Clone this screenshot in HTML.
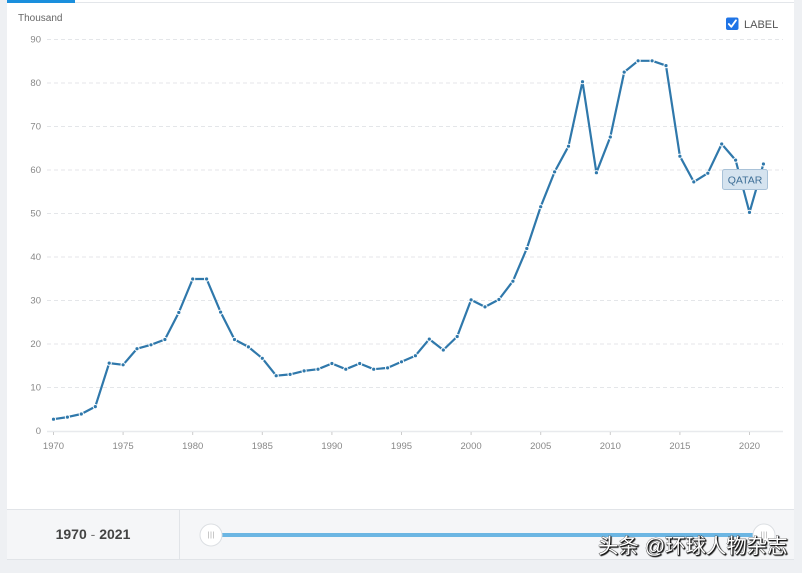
<!DOCTYPE html>
<html><head><meta charset="utf-8">
<style>
html,body{margin:0;padding:0;}
body{width:802px;height:573px;background:#eef0f3;position:relative;overflow:hidden;font-family:"Liberation Sans",sans-serif;}
</style></head>
<body>
<svg width="802" height="573" viewBox="0 0 802 573" xmlns="http://www.w3.org/2000/svg" style="position:absolute;left:0;top:0">
  <rect x="0" y="0" width="802" height="573" fill="#eef0f3"/>
  <!-- main panel -->
  <rect x="7" y="0" width="787" height="509" fill="#ffffff"/>
  <line x1="7" y1="2.5" x2="794" y2="2.5" stroke="#e3e6ea" stroke-width="1"/>
  <rect x="7" y="0" width="68" height="3" fill="#1a8fdd"/>
  <!-- footer -->
  <rect x="7" y="509" width="787" height="50" fill="#f5f6f8"/>
  <line x1="7" y1="509.5" x2="794" y2="509.5" stroke="#e1e4e8"/>
  <line x1="7" y1="559.5" x2="794" y2="559.5" stroke="#e1e4e8"/>
  <line x1="179.5" y1="510" x2="179.5" y2="559" stroke="#e1e4e8"/>
  <text x="93" y="539" text-anchor="middle" font-family="Liberation Sans, sans-serif" font-size="14" font-weight="bold" fill="#444">1970 <tspan font-weight="normal" fill="#777">-</tspan> 2021</text>
  <rect x="222" y="533" width="542" height="4" fill="#6cb6e3"/>
  <circle cx="211" cy="535" r="11" fill="#fff" stroke="#dcdfe3" stroke-width="1"/>
  <g stroke="#bbb" stroke-width="0.8"><line x1="208.5" y1="531.5" x2="208.5" y2="538.5"/><line x1="211" y1="531.5" x2="211" y2="538.5"/><line x1="213.5" y1="531.5" x2="213.5" y2="538.5"/></g>
  <circle cx="764" cy="535" r="11" fill="#fff" stroke="#dcdfe3" stroke-width="1"/>
  <g stroke="#bbb" stroke-width="0.8"><line x1="761.5" y1="531.5" x2="761.5" y2="538.5"/><line x1="764" y1="531.5" x2="764" y2="538.5"/><line x1="766.5" y1="531.5" x2="766.5" y2="538.5"/></g>

  <!-- Thousand -->
  <text x="18" y="21" font-family="Liberation Sans, sans-serif" font-size="10" fill="#666">Thousand</text>

  <!-- grid -->
  <g stroke="#e4e6e9" stroke-width="1" stroke-dasharray="4,3">
    <line x1="47" y1="39.5" x2="783" y2="39.5"/>
    <line x1="47" y1="83" x2="783" y2="83"/>
    <line x1="47" y1="126.5" x2="783" y2="126.5"/>
    <line x1="47" y1="170" x2="783" y2="170"/>
    <line x1="47" y1="213.5" x2="783" y2="213.5"/>
    <line x1="47" y1="257" x2="783" y2="257"/>
    <line x1="47" y1="300.5" x2="783" y2="300.5"/>
    <line x1="47" y1="344" x2="783" y2="344"/>
    <line x1="47" y1="387.5" x2="783" y2="387.5"/>
  </g>
  <line x1="47" y1="431.5" x2="783" y2="431.5" stroke="#e8eaed" stroke-width="1.5"/>
  <g stroke="#ccc" stroke-width="1">
    <line x1="53.5" y1="432" x2="53.5" y2="435"/>
    <line x1="123.1" y1="432" x2="123.1" y2="435"/>
    <line x1="192.7" y1="432" x2="192.7" y2="435"/>
    <line x1="262.3" y1="432" x2="262.3" y2="435"/>
    <line x1="331.9" y1="432" x2="331.9" y2="435"/>
    <line x1="401.5" y1="432" x2="401.5" y2="435"/>
    <line x1="471.1" y1="432" x2="471.1" y2="435"/>
    <line x1="540.7" y1="432" x2="540.7" y2="435"/>
    <line x1="610.3" y1="432" x2="610.3" y2="435"/>
    <line x1="679.9" y1="432" x2="679.9" y2="435"/>
    <line x1="749.5" y1="432" x2="749.5" y2="435"/>
  </g>
  <g font-family="Liberation Sans, sans-serif" font-size="9.5" fill="#888" text-anchor="end">
    <text x="41" y="42.5">90</text>
    <text x="41" y="86">80</text>
    <text x="41" y="129.5">70</text>
    <text x="41" y="173">60</text>
    <text x="41" y="216.5">50</text>
    <text x="41" y="260">40</text>
    <text x="41" y="303.5">30</text>
    <text x="41" y="347">20</text>
    <text x="41" y="390.5">10</text>
    <text x="41" y="434">0</text>
  </g>
  <g font-family="Liberation Sans, sans-serif" font-size="9.5" fill="#888" text-anchor="middle">
    <text x="53.5" y="449">1970</text>
    <text x="123.1" y="449">1975</text>
    <text x="192.7" y="449">1980</text>
    <text x="262.3" y="449">1985</text>
    <text x="331.9" y="449">1990</text>
    <text x="401.5" y="449">1995</text>
    <text x="471.1" y="449">2000</text>
    <text x="540.7" y="449">2005</text>
    <text x="610.3" y="449">2010</text>
    <text x="679.9" y="449">2015</text>
    <text x="749.5" y="449">2020</text>
  </g>

  <!-- series -->
  <polyline fill="none" stroke="#2f78ab" stroke-width="2.2" stroke-linejoin="round" points="53.5,419.2 67.4,417.1 81.3,414.0 95.3,406.6 109.2,363.1 123.1,364.8 137.0,348.7 151.0,344.8 164.9,339.5 178.8,312.5 192.7,279.0 206.6,279.0 220.6,312.1 234.5,339.5 248.4,346.9 262.3,358.3 276.2,375.7 290.1,374.4 304.1,370.9 318.0,369.2 331.9,363.5 345.8,369.2 359.7,363.5 373.7,369.2 387.6,367.9 401.5,361.8 415.4,355.7 429.3,339.1 443.3,350.0 457.2,336.5 471.1,299.9 485.0,306.9 498.9,299.5 512.9,281.2 526.8,248.5 540.7,206.7 554.6,171.9 568.5,146.2 582.5,81.7 596.4,172.7 610.3,137.0 624.2,72.1 638.1,60.8 652.1,60.8 666.0,65.6 679.9,156.2 693.8,181.9 707.8,173.2 721.7,144.0 735.6,160.1 749.5,212.4 763.4,164.0"/>
  <g fill="#ffffff">
    <circle cx="53.5" cy="419.2" r="2.6"/><circle cx="67.4" cy="417.1" r="2.6"/><circle cx="81.3" cy="414.0" r="2.6"/><circle cx="95.3" cy="406.6" r="2.6"/><circle cx="109.2" cy="363.1" r="2.6"/><circle cx="123.1" cy="364.8" r="2.6"/><circle cx="137.0" cy="348.7" r="2.6"/><circle cx="151.0" cy="344.8" r="2.6"/><circle cx="164.9" cy="339.5" r="2.6"/><circle cx="178.8" cy="312.5" r="2.6"/><circle cx="192.7" cy="279.0" r="2.6"/><circle cx="206.6" cy="279.0" r="2.6"/><circle cx="220.6" cy="312.1" r="2.6"/><circle cx="234.5" cy="339.5" r="2.6"/><circle cx="248.4" cy="346.9" r="2.6"/><circle cx="262.3" cy="358.3" r="2.6"/><circle cx="276.2" cy="375.7" r="2.6"/><circle cx="290.1" cy="374.4" r="2.6"/><circle cx="304.1" cy="370.9" r="2.6"/><circle cx="318.0" cy="369.2" r="2.6"/><circle cx="331.9" cy="363.5" r="2.6"/><circle cx="345.8" cy="369.2" r="2.6"/><circle cx="359.7" cy="363.5" r="2.6"/><circle cx="373.7" cy="369.2" r="2.6"/><circle cx="387.6" cy="367.9" r="2.6"/><circle cx="401.5" cy="361.8" r="2.6"/><circle cx="415.4" cy="355.7" r="2.6"/><circle cx="429.3" cy="339.1" r="2.6"/><circle cx="443.3" cy="350.0" r="2.6"/><circle cx="457.2" cy="336.5" r="2.6"/><circle cx="471.1" cy="299.9" r="2.6"/><circle cx="485.0" cy="306.9" r="2.6"/><circle cx="498.9" cy="299.5" r="2.6"/><circle cx="512.9" cy="281.2" r="2.6"/><circle cx="526.8" cy="248.5" r="2.6"/><circle cx="540.7" cy="206.7" r="2.6"/><circle cx="554.6" cy="171.9" r="2.6"/><circle cx="568.5" cy="146.2" r="2.6"/><circle cx="582.5" cy="81.7" r="2.6"/><circle cx="596.4" cy="172.7" r="2.6"/><circle cx="610.3" cy="137.0" r="2.6"/><circle cx="624.2" cy="72.1" r="2.6"/><circle cx="638.1" cy="60.8" r="2.6"/><circle cx="652.1" cy="60.8" r="2.6"/><circle cx="666.0" cy="65.6" r="2.6"/><circle cx="679.9" cy="156.2" r="2.6"/><circle cx="693.8" cy="181.9" r="2.6"/><circle cx="707.8" cy="173.2" r="2.6"/><circle cx="721.7" cy="144.0" r="2.6"/><circle cx="735.6" cy="160.1" r="2.6"/><circle cx="749.5" cy="212.4" r="2.6"/><circle cx="763.4" cy="164.0" r="2.6"/>
  </g>
  <g fill="#2f78ab">
    <circle cx="53.5" cy="419.2" r="1.6"/><circle cx="67.4" cy="417.1" r="1.6"/><circle cx="81.3" cy="414.0" r="1.6"/><circle cx="95.3" cy="406.6" r="1.6"/><circle cx="109.2" cy="363.1" r="1.6"/><circle cx="123.1" cy="364.8" r="1.6"/><circle cx="137.0" cy="348.7" r="1.6"/><circle cx="151.0" cy="344.8" r="1.6"/><circle cx="164.9" cy="339.5" r="1.6"/><circle cx="178.8" cy="312.5" r="1.6"/><circle cx="192.7" cy="279.0" r="1.6"/><circle cx="206.6" cy="279.0" r="1.6"/><circle cx="220.6" cy="312.1" r="1.6"/><circle cx="234.5" cy="339.5" r="1.6"/><circle cx="248.4" cy="346.9" r="1.6"/><circle cx="262.3" cy="358.3" r="1.6"/><circle cx="276.2" cy="375.7" r="1.6"/><circle cx="290.1" cy="374.4" r="1.6"/><circle cx="304.1" cy="370.9" r="1.6"/><circle cx="318.0" cy="369.2" r="1.6"/><circle cx="331.9" cy="363.5" r="1.6"/><circle cx="345.8" cy="369.2" r="1.6"/><circle cx="359.7" cy="363.5" r="1.6"/><circle cx="373.7" cy="369.2" r="1.6"/><circle cx="387.6" cy="367.9" r="1.6"/><circle cx="401.5" cy="361.8" r="1.6"/><circle cx="415.4" cy="355.7" r="1.6"/><circle cx="429.3" cy="339.1" r="1.6"/><circle cx="443.3" cy="350.0" r="1.6"/><circle cx="457.2" cy="336.5" r="1.6"/><circle cx="471.1" cy="299.9" r="1.6"/><circle cx="485.0" cy="306.9" r="1.6"/><circle cx="498.9" cy="299.5" r="1.6"/><circle cx="512.9" cy="281.2" r="1.6"/><circle cx="526.8" cy="248.5" r="1.6"/><circle cx="540.7" cy="206.7" r="1.6"/><circle cx="554.6" cy="171.9" r="1.6"/><circle cx="568.5" cy="146.2" r="1.6"/><circle cx="582.5" cy="81.7" r="1.6"/><circle cx="596.4" cy="172.7" r="1.6"/><circle cx="610.3" cy="137.0" r="1.6"/><circle cx="624.2" cy="72.1" r="1.6"/><circle cx="638.1" cy="60.8" r="1.6"/><circle cx="652.1" cy="60.8" r="1.6"/><circle cx="666.0" cy="65.6" r="1.6"/><circle cx="679.9" cy="156.2" r="1.6"/><circle cx="693.8" cy="181.9" r="1.6"/><circle cx="707.8" cy="173.2" r="1.6"/><circle cx="721.7" cy="144.0" r="1.6"/><circle cx="735.6" cy="160.1" r="1.6"/><circle cx="749.5" cy="212.4" r="1.6"/><circle cx="763.4" cy="164.0" r="1.6"/>
  </g>

  <!-- QATAR label -->
  <rect x="722.5" y="169.5" width="45" height="20" rx="2" fill="#d5e3ef" stroke="#a9c2d8" stroke-width="1"/>
  <text x="745" y="183.5" text-anchor="middle" font-family="Liberation Sans, sans-serif" font-size="10.5" fill="#3d6e96">QATAR</text>

  <!-- LABEL checkbox -->
  <rect x="726" y="17.5" width="12.5" height="12.5" rx="2" fill="#1f74e6"/>
  <polyline points="728.8,24 731.3,26.8 736,20.3" fill="none" stroke="#fff" stroke-width="1.8" stroke-linecap="round" stroke-linejoin="round"/>
  <text x="744" y="28" font-family="Liberation Sans, sans-serif" font-size="11" fill="#555">LABEL</text>

  <!-- watermark -->
  <text x="598" y="553" font-family="Liberation Sans, 'Noto Sans CJK SC', sans-serif" font-size="20.4" fill="#ffffff" stroke="#222" stroke-width="0.6" paint-order="stroke" style="text-shadow:1px 1px 1px #000">头条 @环球人物杂志</text>
</svg>
</body></html>
